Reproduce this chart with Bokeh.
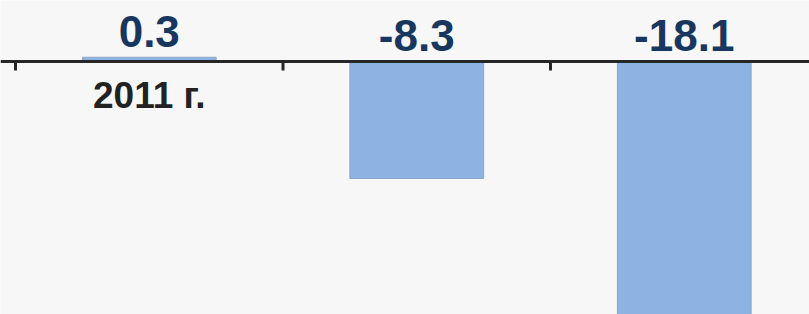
import numpy as np
from bokeh.plotting import figure
from bokeh.models import ColumnDataSource, Span, Range1d
from bokeh.core.properties import value
from bokeh.embed import file_html
from bokeh.resources import INLINE

# ---- data ----
categories = ["2011 г.", "2012 г.", "2013 г."]
values = [0.3, -8.3, -18.1]
value_labels = ["0.3", "-8.3", "-18.1"]

BG = "#f7f7f7"
W, H = 809, 314
px_per_cat = 267.5
px_per_unit = 14.1
left_pad_px = 15
top_pad_px = 61

xs = -left_pad_px / px_per_cat
xe = xs + W / px_per_cat
ye = top_pad_px / px_per_unit
ys = ye - H / px_per_unit

p = figure(width=W, height=H, output_backend="svg", toolbar_location=None,
           x_range=Range1d(xs, xe), y_range=Range1d(ys, ye),
           min_border=0, x_axis_location=None, y_axis_location=None)
p.background_fill_color = BG
p.border_fill_color = BG
p.outline_line_color = None
p.grid.visible = False

n = len(categories)
centers = np.arange(n) + 0.5
bounds = np.arange(n + 1).astype(float)
vals = np.array(values)

src = ColumnDataSource(dict(x=centers, top=vals, cat=categories,
                            lab=value_labels, ly=np.maximum(vals, 0)))

# category labels (drawn first, bars cover the hidden ones)
p.text(x="x", y=0, text="cat", source=src, text_align="center",
       text_baseline="alphabetic", y_offset=34,
       text_font=value("Liberation Sans"), text_font_style="bold",
       text_font_size="37px", text_color="#222222")

# bars
p.vbar(x="x", top="top", bottom=0, width=0.5, source=src,
       fill_color="#8db3e2", line_color="#8aa6c8", line_width=1)

# axis line and ticks
p.add_layout(Span(location=0, dimension="width", line_color="#262626", line_width=3))
p.ray(x=bounds, y=0, length=9, angle=-np.pi / 2, length_units="screen",
      line_color="#262626", line_width=3)

# value labels
p.text(x="x", y="ly", text="lab", source=src, text_align="center",
       text_baseline="alphabetic", y_offset=-26,
       text_font=value("Liberation Sans"), text_font_style="bold",
       text_font_size="44px", text_color="#17375e")

html = file_html(p, INLINE)
html = html.replace("<body>", '<body style="background:%s">' % BG, 1)
open("out.html", "w").write(html)
